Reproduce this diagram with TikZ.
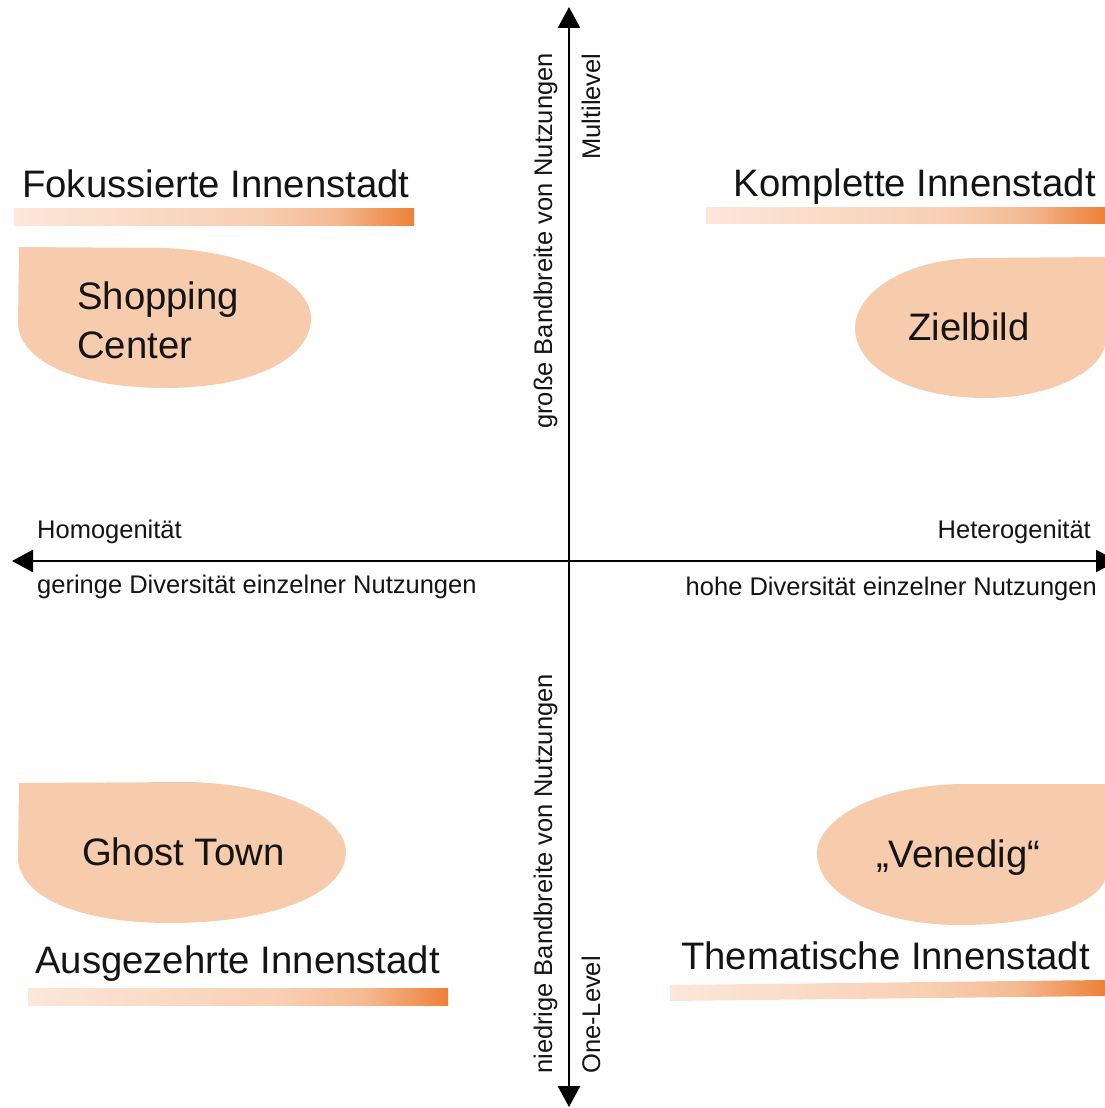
\documentclass[tikz,border=0pt]{standalone}
\usepackage{fontspec}
\setmainfont{Liberation Sans}
\usetikzlibrary{arrows.meta}
\definecolor{blob}{HTML}{F7CCAD}
\definecolor{barA}{HTML}{FCE7DA}
\definecolor{barB}{HTML}{F8CFB3}
\definecolor{barC}{HTML}{F4BA92}
\definecolor{barD}{HTML}{ED8038}
\definecolor{ink}{HTML}{141414}
\pgfdeclarehorizontalshading{barshade}{100bp}{color(0bp)=(barA); color(25bp)=(barA); color(55bp)=(barB); color(65bp)=(barC); color(75bp)=(barD); color(100bp)=(barD)}
\tikzset{
  title/.style={inner sep=0pt, text=ink, font=\fontsize{38.3}{44}\selectfont},
  small/.style={inner sep=0pt, text=ink, font=\fontsize{25.5}{30}\selectfont},
  blobfill/.style={fill=blob},
  barfill/.style={shading=barshade},
  axisline/.style={line width=2.8pt, draw=black, {Triangle[length=21pt,width=22pt]}-{Triangle[length=21pt,width=22pt]}},
}
\begin{document}
\begin{tikzpicture}[x=1pt,y=-1pt]
\useasboundingbox (0,0) rectangle (1105,1108);
\clip (0,0) rectangle (1105,1108);

% blobs
\fill[blobfill] (19,247) -- (165,248) .. controls (255,252) and (311,285) .. (311,318)
  .. controls (311,360) and (250,388) .. (165,388) .. controls (85,388) and (22,365) .. (18,325) -- cycle;
\fill[blobfill] (1105,257) -- (975,258) .. controls (900,260) and (855,295) .. (855,328)
  .. controls (855,368) and (910,398) .. (985,398) .. controls (1050,398) and (1100,372) .. (1105,345) -- cycle;
\fill[blobfill] (19,783) -- (190,782) .. controls (290,785) and (346,820) .. (346,852)
  .. controls (346,895) and (270,923) .. (170,923) .. controls (85,923) and (22,900) .. (18,860) -- cycle;
\fill[blobfill] (1105,784) -- (960,784) .. controls (870,786) and (817,822) .. (817,853)
  .. controls (817,895) and (880,925) .. (960,925) .. controls (1040,925) and (1095,905) .. (1105,880) -- cycle;

% gradient bars
\path[barfill] (14,208) rectangle (414,225);
\path[barfill] (706,207) rectangle (1105,223);
\path[barfill] (28,988) rectangle (448,1005);
\path[barfill] (670,985) -- (1105,980) -- (1105,996) -- (670,1001) -- cycle;

% axes
\coordinate (top) at (569,7);
\coordinate (bottom) at (569,1107);
\coordinate (left) at (12,561);
\coordinate (right) at (1117,561);
\draw[axisline] (bottom) -- (top);
\draw[axisline] (left) -- (right);

% quadrant titles
\node[title, anchor=base west] (fok) at (22,197) {Fokussierte Innenstadt};
\node[title, anchor=base east] (kom) at (1096,196) {Komplette Innenstadt};
\node[title, anchor=base west] (aus) at (35,973) {Ausgezehrte Innenstadt};
\node[title, anchor=base west] (the) at (681,969) {Thematische Innenstadt};

% blob labels
\node[title, anchor=base west] (sc1) at (77,309) {Shopping};
\node[title, anchor=base west] (sc2) at (77,358) {Center};
\node[title, anchor=base west] (ziel) at (908,340) {Zielbild};
\node[title, anchor=base west] (ghost) at (82,865) {Ghost Town};
\node[title, anchor=base west] (ven) at (876,867) {„Venedig“};

% horizontal axis labels
\node[small, anchor=base west] (homo) at (37,538) {Homogenität};
\node[small, anchor=base west] (ger) at (37,593) {geringe Diversität einzelner Nutzungen};
\node[small, anchor=base east] (het) at (1091,538) {Heterogenität};
\node[small, anchor=base east] (hoh) at (1097,595) {hohe Diversität einzelner Nutzungen};

% vertical axis labels
\node[small, anchor=base west, rotate=90] (gro) at (552,429) {große Bandbreite von Nutzungen};
\node[small, anchor=base west, rotate=90] (mul) at (600,160) {Multilevel};
\node[small, anchor=base west, rotate=90] (nie) at (552,1074) {niedrige Bandbreite von Nutzungen};
\node[small, anchor=base west, rotate=90] (one) at (600,1074) {One-Level};
\end{tikzpicture}
\end{document}
